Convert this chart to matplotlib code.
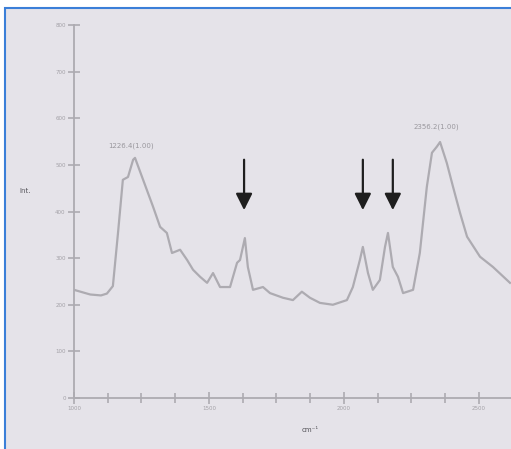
import numpy as np
import matplotlib.pyplot as plt
from matplotlib.patches import Rectangle
from matplotlib.ticker import MultipleLocator

# spectrum (x in axis units, y in intensity)
wavenumber = [1000, 1060, 1100, 1122, 1144, 1163, 1181, 1200, 1219, 1226,
              1256, 1293, 1319, 1344, 1363, 1393, 1419, 1441, 1467, 1493,
              1515, 1541, 1578, 1604, 1615, 1633, 1644, 1663, 1700, 1726,
              1774, 1811, 1844, 1874, 1911, 1959, 2011, 2033, 2059, 2070,
              2089, 2107, 2133, 2152, 2163, 2181, 2200, 2219, 2256, 2281,
              2307, 2326, 2344, 2356, 2381, 2404, 2430, 2456, 2504, 2552,
              2615]
intensity = [232, 222, 220, 224, 240, 354, 468, 474, 511, 515,
             468, 410, 367, 354, 311, 318, 296, 275, 260, 247,
             268, 238, 238, 290, 296, 343, 281, 232, 238, 225,
             215, 210, 228, 215, 204, 200, 210, 238, 296, 324,
             268, 232, 253, 324, 354, 281, 260, 225, 232, 311,
             453, 526, 539, 549, 504, 453, 397, 346, 303, 281,
             247]

# marked peaks (arrows) and labelled maxima
arrow_x = [1630, 2070, 2181]
peak_labels = [(1226, "1226.4(1.00)"), (2356, "2356.2(1.00)")]

y_ticks = [0, 100, 200, 300, 400, 500, 600, 700, 800]
x_ticks = [1000, 1500, 2000, 2500]

bg = "#e5e3e9"
grey = "#adabb1"

fig = plt.figure(figsize=(5.11, 4.49), dpi=100, facecolor="white")
fig.patches.append(Rectangle((5 / 511, -0.1), 1.2, 1.1 - 8 / 449, transform=fig.transFigure,
                             facecolor=bg, edgecolor="#3b7fd8", linewidth=1.5, zorder=-10))

ax = fig.add_axes([74 / 511, 1 - 398 / 449, (517 - 74) / 511, 373 / 449])
ax.set_facecolor("none")
ax.plot(wavenumber, intensity, color=grey, linewidth=1.6)

ax.set_xlim(1000, 2641)
ax.set_ylim(0, 800)
ax.set_xticks(x_ticks)
ax.xaxis.set_minor_locator(MultipleLocator(125))
ax.set_yticks(y_ticks)
ax.set_xticklabels([str(v) for v in x_ticks], fontsize=4, color="#a3a1a7")
ax.set_yticklabels([str(v) for v in y_ticks], fontsize=4, color="#a3a1a7")
ax.tick_params(axis="both", which="both", direction="inout", color=grey, width=1.2)
ax.tick_params(axis="both", which="major", length=8, pad=2)
ax.tick_params(axis="x", which="minor", length=7)
for s in ["top", "right"]:
    ax.spines[s].set_visible(False)
for s in ["left", "bottom"]:
    ax.spines[s].set_color(grey)
    ax.spines[s].set_linewidth(1.3)

for xa in arrow_x:
    ax.annotate("", xy=(xa, 397), xytext=(xa, 517),
                arrowprops=dict(arrowstyle="-|>,head_width=0.5,head_length=1.0",
                                color="#1e1e1e", linewidth=1.6))

for px, lab in peak_labels:
    ax.text(px - 15, 535 if px < 2000 else 575, lab, fontsize=5, color="#99979d",
            ha="center", va="bottom")

fig.text(25 / 511, 1 - 191 / 449, "Int.", fontsize=5, color="#55545a", ha="center", va="center")
fig.text(310 / 511, 1 - 430 / 449, "cm⁻¹", fontsize=5, color="#55545a", ha="center", va="center")

fig.savefig("out.png", dpi=100, facecolor=fig.get_facecolor())
